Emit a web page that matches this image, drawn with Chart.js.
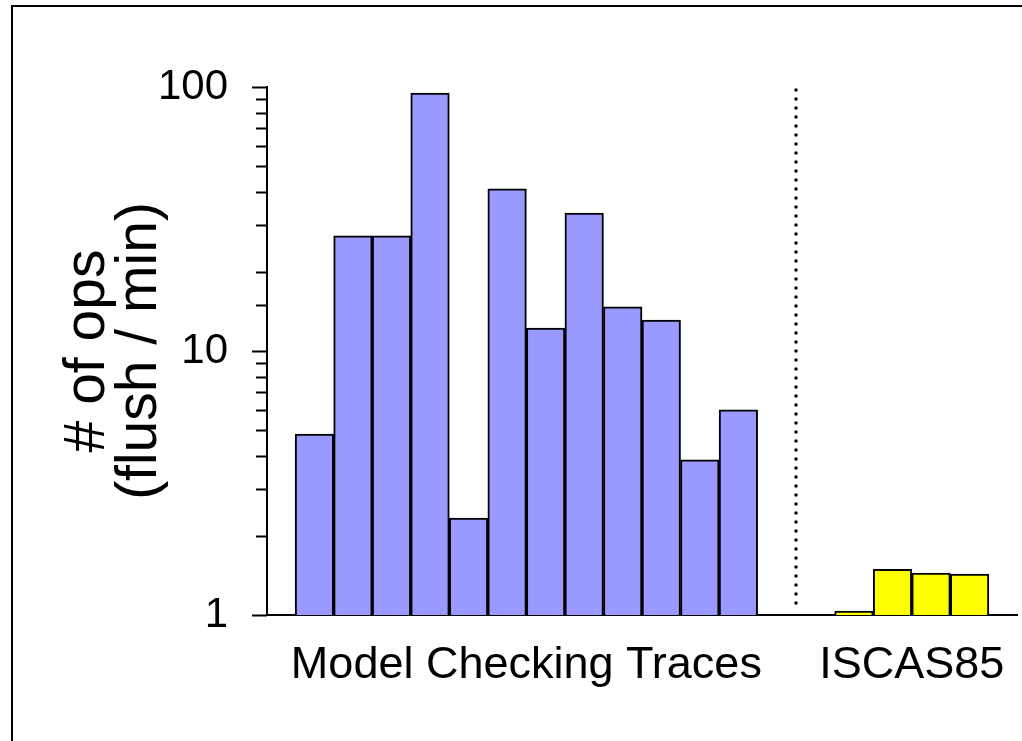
<!DOCTYPE html>
<html>
<head>
<meta charset="utf-8">
<script src="https://cdn.jsdelivr.net/npm/chart.js@4.4.1/dist/chart.umd.min.js"></script>
<style>
  html, body { margin: 0; padding: 0; background: #fff; overflow: hidden; }
  #wrap { position: relative; width: 1022px; height: 741px; }
  #frame { position: absolute; left: 11px; top: 5px; width: 1100px; height: 800px;
           border-left: 2px solid #000; border-top: 2px solid #000; pointer-events: none; }
  canvas { position: absolute; left: 0; top: 0; }
</style>
</head>
<body>
<div id="wrap"><canvas id="c" width="1022" height="741"></canvas><div id="frame"></div></div>
<script>
// ── data ──
const groups = ['Model Checking Traces', 'ISCAS85'];
const traceVals = [4.85, 27.3, 27.3, 94.9, 2.33, 41.1, 12.2, 33.3, 14.7, 13.1, 3.87, 5.98];
const iscasVals = [1.035, 1.49, 1.44, 1.43];
const yTicks = [1, 10, 100];
const yTitle = ['# of ops', '(flush / min)'];
const GAP = 2; // empty slots between the two groups

const FONT = '"Liberation Sans", Arial, sans-serif';
const iscasStart = traceVals.length + GAP;
const tracePts = traceVals.map((v, i) => ({ x: i + 0.5, y: v }));
const iscasPts = iscasVals.map((v, i) => ({ x: iscasStart + i + 0.5, y: v }));
const groupMid = [traceVals.length / 2, iscasStart + iscasVals.length / 2];
const sepX = traceVals.length + GAP / 2;
const isMajor = v => yTicks.some(t => Math.abs(t - v) < 1e-9);

// tick marks (long majors, short minors) + dotted separator
const extras = {
  id: 'extras',
  afterDraw(chart) {
    const { ctx } = chart, y = chart.scales.y, x = chart.scales.x;
    const ax = chart.chartArea.left;
    ctx.save();
    ctx.strokeStyle = '#000';
    ctx.lineWidth = 2;
    y.ticks.forEach(t => {
      const py = Math.round(y.getPixelForValue(t.value)) + 0.5;
      const len = isMajor(t.value) ? 15 : 11;
      ctx.beginPath(); ctx.moveTo(ax - len, py); ctx.lineTo(ax, py); ctx.stroke();
    });
    const sx = Math.round(x.getPixelForValue(sepX));
    ctx.lineWidth = 3.5;
    ctx.lineCap = 'round';
    ctx.setLineDash([0.1, 8.9]);
    ctx.beginPath();
    ctx.moveTo(sx, y.getPixelForValue(yTicks[yTicks.length - 1]) + 3);
    ctx.lineTo(sx, y.getPixelForValue(yTicks[0]) - 6);
    ctx.stroke();
    ctx.restore();
  }
};

new Chart(document.getElementById('c'), {
  type: 'bar',
  data: {
    datasets: [
      { data: tracePts, backgroundColor: '#9999FF', borderColor: '#000', borderWidth: 2 },
      { data: iscasPts, backgroundColor: '#FFFF00', borderColor: '#000', borderWidth: 2 }
    ]
  },
  options: {
    responsive: false,
    animation: false,
    grouped: false,
    barPercentage: 1,
    categoryPercentage: 1,
    layout: { padding: { left: 0, top: 87, right: 5, bottom: 0 } },
    plugins: { legend: { display: false }, tooltip: { enabled: false } },
    scales: {
      x: {
        type: 'linear',
        offset: false,
        min: -0.73,
        max: iscasStart + iscasVals.length + 0.73,
        grid: { display: false, drawTicks: false, offset: false },
        border: { display: true, color: '#000', width: 2 },
        afterBuildTicks: s => { s.ticks = groupMid.map(v => ({ value: v })); },
        ticks: { autoSkip: false, maxRotation: 0, padding: 24, color: '#000',
                 font: { size: 45, family: FONT }, callback: (v, i) => groups[i] },
        afterFit: s => { s.height = 126; s.paddingLeft = 0; s.paddingRight = 0; }
      },
      y: {
        type: 'logarithmic',
        min: 1,
        max: 100,
        grid: { display: true, drawOnChartArea: false, drawTicks: true, tickLength: 15, tickColor: 'rgba(0,0,0,0)' },
        border: { display: true, color: '#000', width: 2 },
        ticks: { autoSkip: false, padding: 24, color: '#000', font: { size: 42, family: FONT },
                 callback: v => isMajor(v) ? String(Math.round(v)) : '' },
        title: { display: true, text: yTitle, color: '#000',
                 font: { size: 57, family: FONT, lineHeight: 0.92 }, padding: { top: 62, bottom: 0 } },
        afterFit: s => { s.width = 267; }
      }
    }
  },
  plugins: [extras]
});
</script>
</body>
</html>
